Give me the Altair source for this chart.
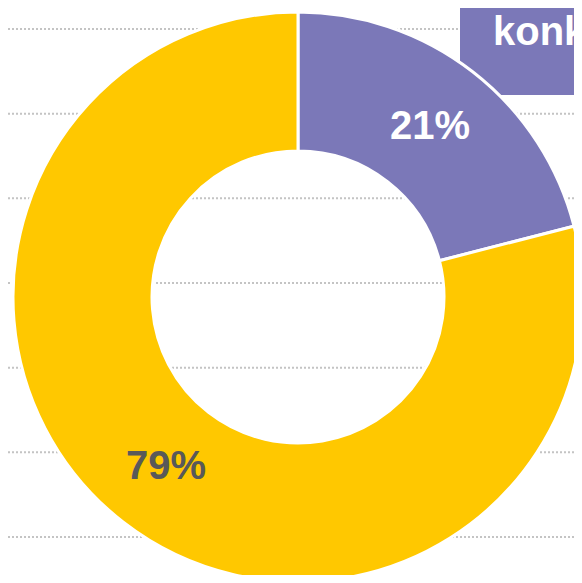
import altair as alt
import pandas as pd

# ---- data ----
categories = ["konk", "pozostałe"]
values = [21, 79]
slice_order = [0, 1]
grid_levels = [0, 1, 2, 3, 4, 5, 6]

# ---- layout ----
W, H = 566, 567
CX, CY = 290, 289
R_OUT, R_IN = 285, 146
FONT = "Liberation Sans"

pie_df = pd.DataFrame({"category": categories, "value": values, "order": slice_order})
grid_df = pd.DataFrame({"level": grid_levels})
legend_df = pd.DataFrame({"label": [categories[0]]})

grid = alt.Chart(grid_df).mark_rule(
    color="#C4C4C4", strokeWidth=2, strokeDash=[2, 2]
).encode(
    y=alt.Y("level:Q", scale=alt.Scale(domain=[-0.449, 6.248], nice=False, zero=False), axis=None)
)

box = alt.Chart(legend_df).mark_rect(color="#7B78B8").encode(
    x=alt.value(452), x2=alt.value(620), y=alt.value(-10), y2=alt.value(87)
)

box_text = alt.Chart(legend_df).mark_text(
    font=FONT, fontWeight="bold", fontSize=40, color="white", align="left", baseline="alphabetic"
).encode(text="label:N", x=alt.value(485), y=alt.value(37))

base = alt.Chart(pie_df).encode(
    theta=alt.Theta("value:Q", stack=True),
    order=alt.Order("order:Q"),
)

arc = base.mark_arc(radius=R_OUT, radius2=R_IN, stroke="white", strokeWidth=3).encode(
    color=alt.Color("category:N", scale=alt.Scale(domain=categories, range=["#7B78B8", "#FFC800"]), legend=None),
    x=alt.value(CX),
    y=alt.value(CY),
)

labels = base.transform_calculate(lbl="datum.value + '%'").mark_text(
    radius=(R_OUT + R_IN) / 2, font=FONT, fontWeight="bold", fontSize=40
).encode(
    text="lbl:N",
    color=alt.Color("category:N", scale=alt.Scale(domain=categories, range=["#FFFFFF", "#595959"]), legend=None),
    x=alt.value(CX),
    y=alt.value(CY),
)

chart = alt.layer(grid, box, arc, labels, box_text).resolve_scale(
    color="independent"
).properties(
    width=W, height=H, padding=0, autosize="none"
).configure_view(stroke=None)

chart.save("out.html", embed_options={"renderer": "svg", "actions": False})
